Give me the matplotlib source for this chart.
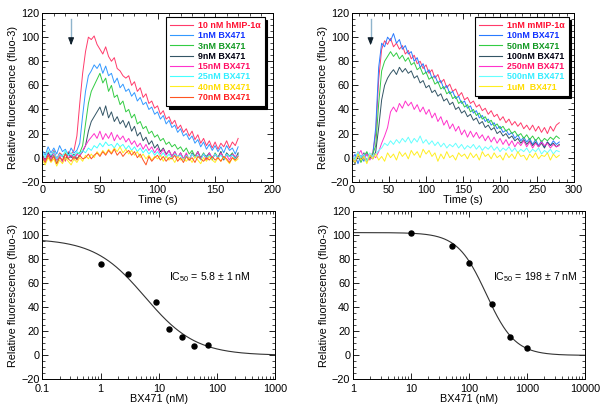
import numpy as np
import matplotlib
matplotlib.use("Agg")
import matplotlib.pyplot as plt
from matplotlib.ticker import MultipleLocator, FuncFormatter, LogLocator, NullFormatter
from matplotlib.lines import Line2D

plt.rcParams['font.family'] = ['Liberation Sans', 'DejaVu Sans']
plt.rcParams['mathtext.fontset'] = 'custom'
plt.rcParams['mathtext.rm'] = 'Liberation Sans'
plt.rcParams['font.size'] = 7.8

# ---------------- top left: 10 nM hMIP-1a with BX471 ----------------
t_left = np.arange(0, 171, 2.5)
left_labels = ['10 nM hMIP-1\u03b1', '1nM BX471', '3nM BX471', '9nM BX471',
               '15nM BX471', '25nM BX471', '40nM BX471', '70nM BX471']
left_line_colors = ['#ff3b6b', '#3399ff', '#33cc44', '#335566',
                    '#ff33cc', '#44ffff', '#ffee22', '#ff5522']
left_text_colors = ['#ff1133', '#1133ff', '#119922', '#000011',
                    '#ff1166', '#33eeff', '#ffdd00', '#ff2222']

hmip = [3, -2, 5, 1, 6, -1, 4, 2, -3, 5,
        3, 6, 18, 45, 70, 88, 100, 98, 101, 94,
        90, 86, 92, 84, 80, 83, 74, 72, 68, 66,
        68, 60, 63, 55, 58, 50, 53, 45, 47, 41,
        43, 36, 39, 32, 34, 28, 31, 24, 27, 21,
        24, 18, 22, 15, 19, 12, 16, 10, 14, 8,
        13, 7, 12, 9, 14, 8, 13, 10, 16]
bx_1 = [6, 2, 9, 4, 8, 3, 10, 5, 7, 2,
        8, 4, 6, 12, 35, 55, 68, 72, 77, 74,
        78, 70, 76, 68, 70, 62, 66, 58, 61, 55,
        57, 51, 54, 47, 50, 44, 46, 40, 42, 36,
        38, 32, 35, 28, 31, 25, 27, 21, 24, 18,
        20, 15, 18, 12, 15, 9, 13, 7, 11, 6,
        10, 5, 9, 4, 10, 6, 8, 3, 9]
bx_3 = [0, -4, 3, -2, 2, -5, 1, -3, 4, -1,
        2, -2, 3, 4, 10, 28, 45, 55, 60, 65,
        70, 62, 66, 55, 60, 50, 52, 44, 47, 38,
        40, 33, 36, 28, 30, 24, 26, 20, 22, 17,
        19, 14, 16, 11, 13, 9, 11, 7, 9, 5,
        8, 3, 6, 1, 5, 0, 4, -1, 3, -2,
        4, 0, 5, -1, 3, 1, 4, -1, 3]
bx_9 = [2, -3, 4, 0, 5, -2, 3, 1, -1, 4,
        0, 3, -1, 2, 5, 10, 22, 30, 34, 38,
        42, 35, 43, 33, 38, 30, 34, 28, 31, 25,
        30, 22, 26, 18, 21, 14, 17, 11, 14, 8,
        11, 5, 8, 3, 6, 1, 5, 0, 4, -1,
        3, -2, 4, 0, 5, -1, 3, 1, 4, -1,
        3, 0, 5, -2, 4, 1, 3, -1, 4]
bx_15 = [1, -3, 3, -1, 4, -2, 2, -4, 3, 0,
         2, -1, 3, 1, 6, 10, 14, 17, 20, 16,
         22, 15, 20, 16, 21, 14, 19, 15, 18, 13,
         16, 11, 14, 9, 12, 7, 11, 6, 9, 4,
         8, 3, 7, 2, 6, 1, 5, 0, 4, -1,
         4, -2, 3, 0, 5, -1, 3, -2, 4, 0,
         3, -1, 4, 0, 2, -2, 3, 1, 2]
bx_25 = [4, 0, 6, 2, 5, -1, 3, 1, 6, 2,
         4, 1, 5, 3, 6, 4, 8, 6, 10, 8,
         12, 9, 13, 10, 11, 8, 12, 9, 11, 7,
         10, 6, 9, 5, 8, 4, 7, 3, 6, 2,
         5, 1, 4, 0, 3, -1, 3, 1, 2, -2,
         2, -1, 3, 0, 2, -2, 3, 0, 2, -1,
         3, 0, 2, -1, 3, 1, 2, -1, 2]
bx_40 = [-2, -6, 0, -4, -1, -7, -2, -5, 0, -3,
         -6, -1, -4, 0, -3, 2, -1, 3, 0, 5,
         2, 6, 3, 7, 4, 8, 5, 9, 4, 7,
         3, 6, 2, 5, 0, 3, -1, 2, -2, 1,
         -1, 2, -3, 1, -2, 0, -4, 1, -2, -1,
         -3, 0, -4, 1, -2, -5, 0, -3, 1, -2,
         -4, 0, -3, 1, -2, -5, 0, -3, -1]
bx_70 = [0, -4, 2, -3, 1, -5, 0, -2, 3, -1,
         -3, 1, -2, 2, -1, 0, 3, -1, 2, 4,
         1, 5, 2, 6, 3, 7, 2, 5, 1, 4,
         6, 2, 5, 0, 3, -2, -6, 1, -3, 0,
         2, -2, 1, -3, 0, -1, 2, -3, 0, -4,
         1, -2, 0, -4, 1, -1, -3, 0, -2, 1,
         -2, 0, -3, 1, -1, -4, 0, -2, 1]
left_traces = [hmip, bx_1, bx_3, bx_9, bx_15, bx_25, bx_40, bx_70]

# ---------------- top right: 1 nM mMIP-1a with BX471 ----------------
t_right = np.arange(0, 281, 4)
right_labels = ['1nM mMIP-1\u03b1', '10nM BX471', '50nM BX471', '100nM BX471',
                '250nM BX471', '500nM BX471', '1uM  BX471']
right_line_colors = ['#ff3b6b', '#2a7bff', '#33cc44', '#335566',
                     '#ff33cc', '#66ffff', '#ffee22']
right_text_colors = ['#ff1133', '#1133ff', '#119922', '#000011',
                     '#ff1166', '#33eeff', '#ffdd00']

mmip = [2, -4, 5, -1, 3, -3, 1, 4, 20, 65,
        90, 97, 94, 99, 92, 95, 90, 93, 86, 89,
        82, 85, 78, 80, 74, 77, 70, 73, 66, 69,
        62, 65, 58, 61, 55, 57, 51, 54, 48, 50,
        45, 47, 42, 44, 39, 41, 36, 39, 34, 36,
        31, 34, 29, 32, 27, 30, 26, 29, 24, 27,
        23, 27, 22, 26, 21, 25, 20, 26, 22, 27,
        29]
r_10 = [-2, 3, -5, 2, -3, 4, 0, 2, 25, 75,
        95, 92, 100, 97, 103, 95, 98, 90, 93, 86,
        88, 80, 83, 75, 78, 70, 73, 66, 68, 62,
        64, 57, 60, 53, 55, 49, 51, 45, 47, 41,
        43, 37, 39, 33, 35, 30, 32, 27, 29, 24,
        26, 21, 23, 19, 21, 16, 19, 14, 17, 13,
        16, 11, 15, 10, 14, 9, 13, 10, 14, 11,
        13]
r_50 = [3, -2, 4, -4, 1, 5, -1, 3, 10, 45,
        72, 80, 84, 88, 84, 87, 82, 85, 80, 83,
        77, 79, 73, 75, 69, 71, 65, 67, 61, 63,
        57, 59, 53, 55, 49, 51, 45, 47, 42, 44,
        38, 40, 35, 37, 32, 34, 29, 31, 26, 28,
        24, 26, 22, 24, 20, 22, 18, 20, 16, 19,
        15, 18, 14, 17, 13, 16, 14, 17, 15, 18,
        16]
r_100 = [0, -5, 2, -2, 4, -3, 1, -1, 5, 25,
         48, 60, 66, 70, 73, 69, 75, 71, 74, 70,
         72, 66, 68, 62, 64, 58, 60, 54, 56, 51,
         53, 47, 49, 44, 46, 40, 42, 37, 39, 34,
         36, 31, 33, 28, 30, 25, 27, 23, 25, 20,
         22, 18, 20, 16, 18, 14, 16, 12, 15, 11,
         14, 10, 13, 9, 12, 8, 13, 10, 12, 9,
         11]
r_250 = [4, -3, 2, 6, -1, 3, -2, 2, 0, 5,
         12, 18, 25, 38, 42, 38, 45, 41, 47, 43,
         46, 40, 44, 38, 42, 36, 40, 33, 37, 30,
         34, 27, 31, 24, 28, 22, 26, 19, 23, 17,
         22, 17, 21, 16, 19, 14, 18, 13, 17, 12,
         16, 11, 15, 10, 14, 9, 13, 10, 14, 9,
         13, 8, 12, 9, 13, 10, 12, 8, 11, 9,
         10]
r_500 = [2, -2, 5, 0, 3, -3, 4, 1, 3, 6,
         8, 12, 10, 14, 11, 15, 12, 16, 13, 17,
         12, 16, 13, 18, 12, 15, 11, 14, 10, 13,
         9, 12, 8, 11, 9, 12, 8, 11, 7, 10,
         8, 11, 7, 10, 6, 9, 7, 10, 6, 9,
         5, 8, 6, 9, 5, 8, 4, 7, 5, 8,
         4, 7, 5, 8, 3, 6, 4, 7, 3, 6,
         5]
r_1000 = [0, -4, 3, -2, 1, -5, 2, -1, 3, -2,
          1, -3, 4, 0, 3, -2, 5, 1, 4, -1,
          6, 2, 5, 0, 7, 3, 6, 1, 4, -3,
          3, -1, 5, 0, 2, -2, 4, 1, 3, -1,
          4, 0, 3, -2, 5, 1, 3, -1, 4, 0,
          2, -2, 4, 0, 3, -1, 5, 1, 2, -2,
          3, 0, 4, -1, 2, 1, 4, -2, 3, 0,
          2]
right_traces = [mmip, r_10, r_50, r_100, r_250, r_500, r_1000]

# ---------------- bottom: dose response ----------------
dose_left = [1, 3, 9, 15, 25, 40, 70]
resp_left = [76, 68, 44, 22, 15, 8, 9]
fit_left = dict(top=97.0, ic50=5.8, hill=1.0)

dose_right = [10, 50, 100, 250, 500, 1000]
resp_right = [102, 91, 77, 43, 15, 6]
fit_right = dict(top=102.0, ic50=198.0, hill=1.75)

arrow_x = 25


def style_axes(ax):
    ax.tick_params(which='both', direction='in', top=True, right=True,
                   labelsize=7.8, pad=2)
    ax.tick_params(which='major', length=4, width=0.6)
    ax.tick_params(which='minor', length=2, width=0.5)
    for s in ax.spines.values():
        s.set_linewidth(0.7)


def trace_panel(ax, t, traces, colors, labels, textcolors, xmax, legend_anchor):
    for y, c in zip(traces, colors):
        ax.plot(t, y, color=c, lw=0.7)
    ax.set_xlim(0, xmax)
    ax.set_ylim(-20, 120)
    ax.xaxis.set_major_locator(MultipleLocator(50))
    ax.xaxis.set_minor_locator(MultipleLocator(10))
    ax.yaxis.set_major_locator(MultipleLocator(20))
    ax.yaxis.set_minor_locator(MultipleLocator(5))
    ax.set_xlabel('Time (s)', labelpad=0)
    ax.set_ylabel('Relative fluorescence (fluo-3)', labelpad=2)
    style_axes(ax)
    # stimulus arrow
    ax.plot([arrow_x, arrow_x], [115, 96], color='#8fb4cc', lw=1.0)
    ax.annotate('', xy=(arrow_x, 91), xytext=(arrow_x, 98),
                arrowprops=dict(arrowstyle='-|>,head_length=0.55,head_width=0.22',
                                color='#10202c', lw=0.8))
    handles = [Line2D([], [], color=c, lw=0.8) for c in colors]
    leg = ax.legend(handles, labels, loc='upper right', bbox_to_anchor=legend_anchor,
                    borderaxespad=0, labelspacing=0.14, handlelength=2.6,
                    handletextpad=0.5, borderpad=0.45, fancybox=False,
                    edgecolor='black', framealpha=1,
                    shadow={'color': 'black', 'alpha': 1},
                    prop={'weight': 'bold', 'size': 6.4})
    leg.get_frame().set_linewidth(0.8)
    for txt, c in zip(leg.get_texts(), textcolors):
        txt.set_color(c)


def dose_panel(ax, dose, resp, fit, xlo, xhi, label, text_xy):
    xs = np.logspace(np.log10(xlo), np.log10(xhi), 300)
    ys = fit['top'] / (1 + (xs / fit['ic50']) ** fit['hill'])
    ax.plot(xs, ys, color='#333333', lw=0.8)
    ax.plot(dose, resp, 'o', color='black', ms=3.6)
    ax.set_xscale('log')
    ax.set_xlim(xlo, xhi)
    ax.set_ylim(-20, 120)
    ax.xaxis.set_major_locator(LogLocator(base=10))
    ax.xaxis.set_minor_locator(LogLocator(base=10, subs=np.arange(2, 10)))
    ax.xaxis.set_major_formatter(FuncFormatter(lambda v, _: f'{v:g}'))
    ax.xaxis.set_minor_formatter(NullFormatter())
    ax.yaxis.set_major_locator(MultipleLocator(20))
    ax.yaxis.set_minor_locator(MultipleLocator(5))
    ax.set_xlabel('BX471 (nM)', labelpad=0)
    ax.set_ylabel('Relative fluorescence (fluo-3)', labelpad=2)
    style_axes(ax)
    ax.tick_params(axis='x', which='both', pad=3.5)
    ax.text(text_xy[0], text_xy[1], label, fontsize=7.6, va='center')


fig = plt.figure(figsize=(6.02, 4.08), dpi=100)
ax1 = fig.add_axes([0.0703, 0.5545, 0.3827, 0.4135])
ax2 = fig.add_axes([0.5848, 0.5545, 0.3688, 0.4135])
ax3 = fig.add_axes([0.0703, 0.0700, 0.3870, 0.4130])
ax4 = fig.add_axes([0.5864, 0.0700, 0.3854, 0.4130])

trace_panel(ax1, t_left, left_traces, left_line_colors, left_labels, left_text_colors,
            200, (0.965, 0.976))
trace_panel(ax2, t_right, right_traces, right_line_colors, right_labels, right_text_colors,
            300, (0.975, 0.976))
dose_panel(ax3, dose_left, resp_left, fit_left, 0.1, 1000,
           'IC$_{\\mathregular{50}}$ = 5.8 \u00b1 1 nM', (15, 65))
dose_panel(ax4, dose_right, resp_right, fit_right, 1, 10000,
           'IC$_{\\mathregular{50}}$ = 198 \u00b1 7 nM', (260, 65))

fig.savefig('out.png', dpi=100)
